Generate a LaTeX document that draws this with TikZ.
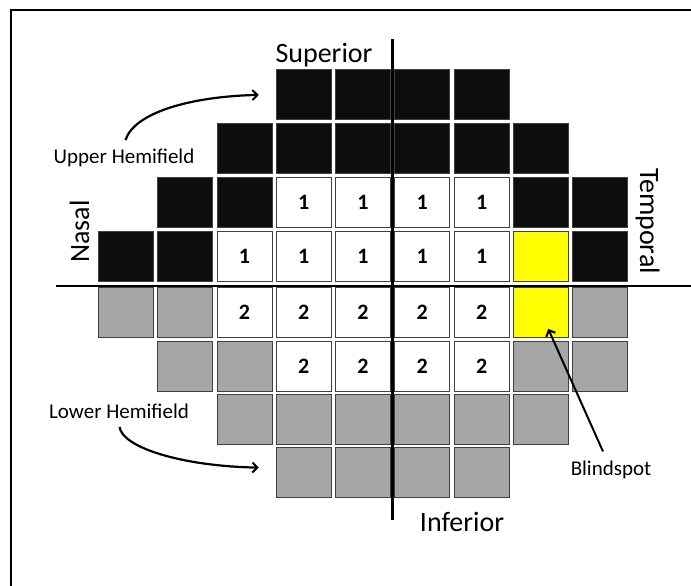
\documentclass[tikz,border=0pt]{standalone}
\usepackage{fontspec}
\setmainfont{Carlito}
\usetikzlibrary{arrows.meta}
\definecolor{cellBlack}{HTML}{0D0D0D}
\definecolor{cellGrey}{HTML}{A6A6A6}
\definecolor{cellEdge}{HTML}{404040}
\definecolor{cellYellow}{HTML}{FFFF00}
% one test location of the field: name, column, row centre, fill, value
\newcommand{\tikzCellNode}[5]{
  \node[cell,fill=#4] (#1) at ({125.8+59.3*#2},#3) {#5};
}

\begin{document}
\begin{tikzpicture}[x=1pt,y=-1pt,
  cell/.style={draw=cellEdge,line width=0.8pt,minimum width=55pt,minimum height=50pt,
    inner sep=0pt,font=\bfseries\fontsize{22}{24}\selectfont},
  sidelabel/.style={font=\fontsize{28}{30}\selectfont,inner sep=0pt},
  notelabel/.style={font=\fontsize{21}{24}\selectfont},
  pointer/.style={line width=2.2pt,-{Straight Barb[length=5pt,width=10pt,line width=2pt]}}]
  \useasboundingbox (0,0) rectangle (691,586);

  % frame
  \draw[line width=2pt] (11,586) -- (11,10) -- (691,10);

  % upper hemifield
  \foreach \c in {3,...,6} \tikzCellNode{c-0-\c}{\c}{94.5}{cellBlack}{};
  \foreach \c in {2,...,7} \tikzCellNode{c-1-\c}{\c}{148.5}{cellBlack}{};
  \foreach \c in {1,2,7,8} \tikzCellNode{c-2-\c}{\c}{202.5}{cellBlack}{};
  \foreach \c in {3,...,6} \tikzCellNode{c-2-\c}{\c}{202.5}{white}{1};
  \foreach \c in {0,1,8} \tikzCellNode{c-3-\c}{\c}{256.5}{cellBlack}{};
  \foreach \c in {2,...,6} \tikzCellNode{c-3-\c}{\c}{256.5}{white}{1};
  \tikzCellNode{c-3-7}{7}{256.5}{cellYellow}{}

  % lower hemifield
  \foreach \c in {0,1,8} \tikzCellNode{c-4-\c}{\c}{312.5}{cellGrey}{};
  \foreach \c in {2,...,6} \tikzCellNode{c-4-\c}{\c}{312.5}{white}{2};
  \tikzCellNode{c-4-7}{7}{312.5}{cellYellow}{}
  \foreach \c in {1,2,7,8} \tikzCellNode{c-5-\c}{\c}{366}{cellGrey}{};
  \foreach \c in {3,...,6} \tikzCellNode{c-5-\c}{\c}{366}{white}{2};
  \foreach \c in {2,...,7} \tikzCellNode{c-6-\c}{\c}{419}{cellGrey}{};
  \foreach \c in {3,...,6} \tikzCellNode{c-7-\c}{\c}{472.5}{cellGrey}{};

  % meridians
  \draw[line width=2.2pt] (56,286) -- (691,286);
  \draw[line width=3pt] (392,39) -- (392,520);

  % labels
  \node[sidelabel,anchor=base] (sup) at (324,63) {Superior};
  \node[sidelabel,anchor=base] (inf) at (462,531.5) {Inferior};
  \node[sidelabel,anchor=base,rotate=90] (nasal) at (89,231.5) {Nasal};
  \node[sidelabel,anchor=base,rotate=-90] (temp) at (640,221) {Temporal};
  \node[notelabel,anchor=base] (upper) at (124,163) {Upper Hemifield};
  \node[notelabel,anchor=base] (lower) at (119,418.3) {Lower Hemifield};
  \node[notelabel,anchor=base] (blind) at (611,475) {Blindspot};

  % arrows
  \draw[pointer,shorten <=5pt,shorten >=17pt] (upper.north)
    .. controls +(10,-32) and +(-86,2) .. (c-0-3.west);
  \draw[pointer,shorten <=5pt,shorten >=17pt] (lower.south)
    .. controls +(3,25) and +(-96,-2) .. ([yshift=4.5pt]c-7-3.west);
  \draw[pointer,line width=2pt,shorten <=6pt,shorten >=18pt] (blind) -- (c-4-7.center);
\end{tikzpicture}
\end{document}
